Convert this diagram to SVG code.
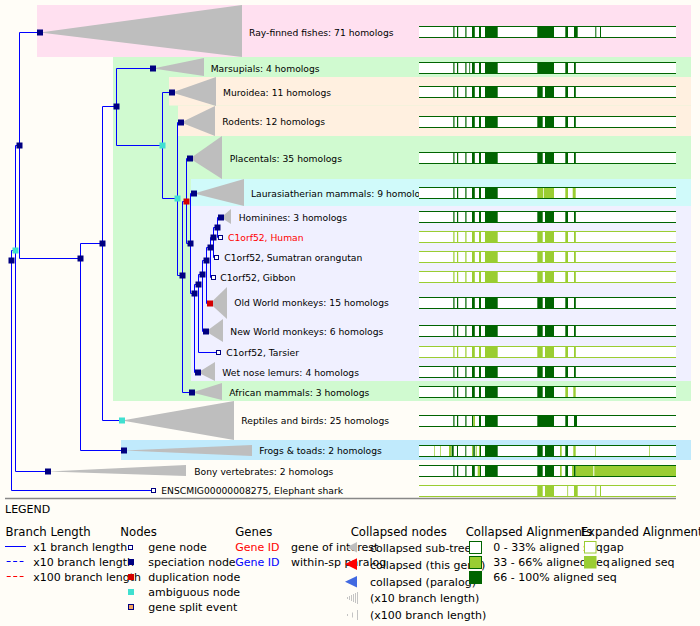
<svg xmlns="http://www.w3.org/2000/svg" xmlns:xlink="http://www.w3.org/1999/xlink" width="700" height="626" viewBox="0 0 700 626">
<style>
text{font-family:"DejaVu Sans",sans-serif;fill:#000}
.l{font-size:9.2px}
.lg{font-size:11px}
.lh{font-size:11.7px}
.sp{fill:#000080}
.am{fill:#40e0d0}
.du{fill:#d40000}
.gn{fill:#fff;stroke:#000080;stroke-width:1}
.tri{fill:#bebebe}
.cn{stroke:#0000ff;stroke-width:1;fill:none}
</style>
<defs>
<g id="fr"><rect x="419" y="0" width="257" height="12" fill="#fff"/></g>
<path id="ln" d="M419,0.5H676M419,11.5H676" fill="none" stroke-width="1"/>
<g id="front"><rect x="453.3" width="1.2" height="12"/><rect x="457" width="1.2" height="12"/><rect x="465.3" width="1.2" height="12"/><rect x="472" width="2.8" height="12"/><rect x="479" width="2" height="12"/><rect x="485" width="12.7" height="12"/></g>
<g id="back"><rect x="537.3" width="5.4" height="12"/><rect x="545" width="9" height="12"/><rect x="565.3" width="2.7" height="12"/><rect x="574" width="1.8" height="12"/></g>
</defs>
<rect width="700" height="626" fill="#fffdf7"/>
<g id="bands">
<rect x="37" y="5" width="654" height="52" fill="#ffe0f0"/>
<rect x="113" y="57" width="578" height="344" fill="#d0fad0"/>
<rect x="169" y="77" width="522" height="28.5" fill="#fff0e0"/>
<rect x="178" y="105.5" width="513" height="30.5" fill="#fff0e0"/>
<rect x="191" y="179" width="500" height="27" fill="#d0fafa"/>
<rect x="191" y="206" width="500" height="175" fill="#f0f0ff"/>
<rect x="121" y="440" width="570" height="20" fill="#c0eafc"/>
</g>
<g id="connectors" class="cn">
<path d="M11.5,250.5V490.5H154M11.5,250.5H15.5M15.5,145.5V471.5H48M15.5,145.5H19.5M19.5,32.5V258.5M19.5,32.5H40M19.5,258.5H80.5M80.5,243.5V450.5H124M80.5,243.5H102.5M102.5,106.5V420.5H122M102.5,106.5H116.5M116.5,68.5V145.5H162.5M116.5,68.5H153M162.5,92.5V198.5H177.5M162.5,92.5H172M177.5,122.5V275.5H182.5M177.5,122.5H181M182.5,201.5V392.5H192M182.5,201.5H186.5M186.5,158.5V243.5H190.5M186.5,158.5H190M190.5,193.5V293.5H194.5M190.5,193.5H194M194.5,284.5V372.5H198M194.5,284.5H198.5M198.5,274.5V352.5H219M198.5,274.5H202.5M202.5,260.5V331.5H206M202.5,260.5H206.5M206.5,247.5V303.5H210M206.5,247.5H210.5M210.5,237.5V277.5H213.5M210.5,237.5H213.5M213.5,227.5V257.5H217M213.5,227.5H217.5M217.5,217.5V237.5H221M217.5,217.5H221"/>
</g>
<g id="collapsed" class="tri">
<polygon points="40,32.5 242,5 242,57"/>
<polygon points="153,68.5 204,58 204,76"/>
<polygon points="172,92.5 216,77 216,106"/>
<polygon points="181,122.5 215,106 215,136"/>
<polygon points="190,158.5 222,136 222,179"/>
<polygon points="194,193.5 244,179 244,206"/>
<polygon points="221,217.5 231,209 231,224"/>
<polygon points="210,303.5 227,287 227,319"/>
<polygon points="206,331.5 223,319 223,342"/>
<polygon points="198,372.5 215,362 215,381"/>
<polygon points="192,392.5 222,383 222,400"/>
<polygon points="122,420.5 234,401 234,440"/>
<polygon points="124,450.5 252,445 252,456"/>
<polygon points="48,471.5 186,465 186,476"/>
</g>
<g id="nodes">
<g id="n-root"><rect class="sp" x="8.5" y="257.5" width="6" height="6"/></g>
<g id="n-amb1"><rect class="am" x="12.5" y="247.5" width="6" height="6"/></g>
<g id="n-19"><rect class="sp" x="16.5" y="142.5" width="6" height="6"/></g>
<g id="n-80"><rect class="sp" x="77.5" y="255.5" width="6" height="6"/></g>
<g id="n-102"><rect class="sp" x="99.5" y="240.5" width="6" height="6"/></g>
<g id="n-116"><rect class="sp" x="113.5" y="103.5" width="6" height="6"/></g>
<g id="n-amb2"><rect class="am" x="159.5" y="142.5" width="6" height="6"/></g>
<g id="n-amb3"><rect class="am" x="174.5" y="195.5" width="6" height="6"/></g>
<g id="n-182"><rect class="sp" x="179.5" y="272.5" width="6" height="6"/></g>
<g id="n-dup1"><rect class="du" x="183.5" y="198.5" width="6" height="6"/></g>
<g id="n-190"><rect class="sp" x="187.5" y="240.5" width="6" height="6"/></g>
<g id="n-194"><rect class="sp" x="191.5" y="290.5" width="6" height="6"/></g>
<g id="n-198"><rect class="sp" x="195.5" y="281.5" width="6" height="6"/></g>
<g id="n-202"><rect class="sp" x="199.5" y="271.5" width="6" height="6"/></g>
<g id="n-206"><rect class="sp" x="203.5" y="257.5" width="6" height="6"/></g>
<g id="n-210"><rect class="sp" x="207.5" y="244.5" width="6" height="6"/></g>
<g id="n-213"><rect class="sp" x="210.5" y="234.5" width="6" height="6"/></g>
<g id="n-217"><rect class="sp" x="214.5" y="224.5" width="6" height="6"/></g>
<g id="ray"><rect class="sp" x="37" y="29.5" width="6" height="6"/><text class="l" x="249" y="36">Ray-finned fishes: 71 homologs</text></g>
<g id="marsupials"><rect class="sp" x="150" y="65.5" width="6" height="6"/><text class="l" x="210.7" y="71.5">Marsupials: 4 homologs</text></g>
<g id="muroidea"><rect class="sp" x="169" y="89.5" width="6" height="6"/><text class="l" x="223" y="95.5">Muroidea: 11 homologs</text></g>
<g id="rodents"><rect class="sp" x="178" y="119.5" width="6" height="6"/><text class="l" x="222.3" y="125">Rodents: 12 homologs</text></g>
<g id="placentals"><rect class="sp" x="187" y="155.5" width="6" height="6"/><text class="l" x="229.7" y="161.5">Placentals: 35 homologs</text></g>
<g id="laurasiatherian"><rect class="sp" x="191" y="190.5" width="6" height="6"/><text class="l" x="251" y="196.5">Laurasiatherian mammals: 9 homologs</text></g>
<g id="hominines"><rect class="sp" x="218" y="214.5" width="6" height="6"/><text class="l" x="238.7" y="220.5">Hominines: 3 homologs</text></g>
<g id="human"><rect class="gn" x="218.5" y="235.5" width="4" height="4"/><text class="l" x="228" y="240.5" style="fill:#ff0000">C1orf52, Human</text></g>
<g id="orangutan"><rect class="gn" x="214.5" y="255.5" width="4" height="4"/><text class="l" x="224.3" y="260.5">C1orf52, Sumatran orangutan</text></g>
<g id="gibbon"><rect class="gn" x="211.5" y="275.5" width="4" height="4"/><text class="l" x="220.3" y="280.5">C1orf52, Gibbon</text></g>
<g id="owm"><rect class="du" x="207" y="300.5" width="6" height="6"/><text class="l" x="234.3" y="306">Old World monkeys: 15 homologs</text></g>
<g id="nwm"><rect class="sp" x="203" y="328.5" width="6" height="6"/><text class="l" x="230.3" y="334.5">New World monkeys: 6 homologs</text></g>
<g id="tarsier"><rect class="gn" x="216.5" y="350.5" width="4" height="4"/><text class="l" x="226.3" y="355.5">C1orf52, Tarsier</text></g>
<g id="wetnose"><rect class="sp" x="195" y="369.5" width="6" height="6"/><text class="l" x="222.3" y="375.5">Wet nose lemurs: 4 homologs</text></g>
<g id="african"><rect class="sp" x="189" y="389.5" width="6" height="6"/><text class="l" x="229.3" y="395.5">African mammals: 3 homologs</text></g>
<g id="reptiles"><rect class="am" x="119" y="417.5" width="6" height="6"/><text class="l" x="241.3" y="424">Reptiles and birds: 25 homologs</text></g>
<g id="frogs"><rect class="sp" x="121" y="447.5" width="6" height="6"/><text class="l" x="259.3" y="454">Frogs &amp; toads: 2 homologs</text></g>
<g id="bony"><rect class="sp" x="45" y="468.5" width="6" height="6"/><text class="l" x="194.3" y="474.5">Bony vertebrates: 2 homologs</text></g>
<g id="shark"><rect class="gn" x="151.5" y="488.5" width="4" height="4"/><text class="l" x="161.3" y="494">ENSCMIG00000008275, Elephant shark</text></g>
</g>
<g id="alignments">
<g transform="translate(0,26)"><use xlink:href="#fr"/><use xlink:href="#front" fill="#006400"/><g fill="#006400"><rect x="537.3" width="16.7" height="12"/><rect x="565.3" width="2.7" height="12"/><rect x="574" width="3.7" height="12"/><rect x="595.3" width="1" height="12"/><rect x="600" width="1" height="12"/></g><use xlink:href="#ln" stroke="#006400"/></g>
<g transform="translate(0,62)"><use xlink:href="#fr"/><use xlink:href="#front" fill="#006400"/><g fill="#006400"><rect x="469.3" width="0.8" height="12"/><rect x="537.3" width="16.7" height="12"/><rect x="565.3" width="2.7" height="12"/><rect x="574" width="1.8" height="12"/></g><use xlink:href="#ln" stroke="#006400"/></g>
<g transform="translate(0,86)"><use xlink:href="#fr"/><use xlink:href="#front" fill="#006400"/><use xlink:href="#back" fill="#006400"/><use xlink:href="#ln" stroke="#006400"/></g>
<g transform="translate(0,116)"><use xlink:href="#fr"/><use xlink:href="#front" fill="#006400"/><use xlink:href="#back" fill="#006400"/><use xlink:href="#ln" stroke="#006400"/></g>
<g transform="translate(0,152)"><use xlink:href="#fr"/><use xlink:href="#front" fill="#006400"/><use xlink:href="#back" fill="#006400"/><use xlink:href="#ln" stroke="#006400"/></g>
<g transform="translate(0,187)"><use xlink:href="#fr"/><use xlink:href="#front" fill="#006400"/><g fill="#9acd32"><rect x="537.3" width="6" height="12"/><rect x="544" width="10" height="12"/><rect x="565.3" width="2.7" height="12"/><rect x="572.7" width="3" height="12"/></g><use xlink:href="#ln" stroke="#006400"/></g>
<g transform="translate(0,211)"><use xlink:href="#fr"/><use xlink:href="#front" fill="#006400"/><use xlink:href="#back" fill="#006400"/><use xlink:href="#ln" stroke="#006400"/></g>
<g transform="translate(0,231)"><use xlink:href="#fr"/><use xlink:href="#front" fill="#9acd32"/><use xlink:href="#back" fill="#9acd32"/><use xlink:href="#ln" stroke="#9acd32"/></g>
<g transform="translate(0,251)"><use xlink:href="#fr"/><use xlink:href="#front" fill="#9acd32"/><use xlink:href="#back" fill="#9acd32"/><use xlink:href="#ln" stroke="#9acd32"/></g>
<g transform="translate(0,271)"><use xlink:href="#fr"/><use xlink:href="#front" fill="#9acd32"/><use xlink:href="#back" fill="#9acd32"/><use xlink:href="#ln" stroke="#9acd32"/></g>
<g transform="translate(0,297)"><use xlink:href="#fr"/><use xlink:href="#front" fill="#006400"/><use xlink:href="#back" fill="#006400"/><use xlink:href="#ln" stroke="#006400"/></g>
<g transform="translate(0,325)"><use xlink:href="#fr"/><use xlink:href="#front" fill="#006400"/><use xlink:href="#back" fill="#006400"/><use xlink:href="#ln" stroke="#006400"/></g>
<g transform="translate(0,346)"><use xlink:href="#fr"/><use xlink:href="#front" fill="#9acd32"/><use xlink:href="#back" fill="#9acd32"/><use xlink:href="#ln" stroke="#9acd32"/></g>
<g transform="translate(0,366)"><use xlink:href="#fr"/><use xlink:href="#front" fill="#006400"/><use xlink:href="#back" fill="#006400"/><use xlink:href="#ln" stroke="#006400"/></g>
<g transform="translate(0,386)"><use xlink:href="#fr"/><use xlink:href="#front" fill="#006400"/><g fill="#006400"><rect x="537.3" width="5.4" height="12"/><rect x="545" width="9" height="12"/></g><g fill="#9acd32"><rect x="565.3" width="2.7" height="12"/><rect x="573.3" width="2.4" height="12"/></g><use xlink:href="#ln" stroke="#006400"/></g>
<g transform="translate(0,415)"><use xlink:href="#fr"/><g fill="#006400"><rect x="453.3" width="1.2" height="12"/><rect x="457" width="1.2" height="12"/><rect x="465.3" width="1.2" height="12"/><rect x="472" width="1.3" height="12"/><rect x="479" width="2" height="12"/><rect x="485" width="12.7" height="12"/><rect x="537.3" width="16.7" height="12"/><rect x="565.3" width="2.7" height="12"/><rect x="574" width="3" height="12"/></g><rect x="473.3" width="1.7" height="12" fill="#9acd32"/><use xlink:href="#ln" stroke="#006400"/></g>
<g transform="translate(0,445)"><use xlink:href="#fr"/><g fill="#9acd32"><rect x="434" width="0.7" height="12"/><rect x="440" width="0.7" height="12"/><rect x="449" width="2.4" height="12"/><rect x="472" width="1.3" height="12"/><rect x="475.7" width="1" height="12"/><rect x="479" width="1" height="12"/><rect x="560" width="1.7" height="12"/><rect x="573.3" width="2.4" height="12"/><rect x="595.3" width="0.7" height="12"/><rect x="649.3" width="0.7" height="12"/></g><g fill="#006400"><rect x="451.7" width="2" height="12"/><rect x="457" width="1" height="12"/><rect x="465.3" width="1" height="12"/><rect x="473.3" width="1.5" height="12"/><rect x="480" width="1" height="12"/><rect x="485" width="12.7" height="12"/><rect x="537.3" width="5.4" height="12"/><rect x="545" width="9" height="12"/><rect x="565.3" width="2.7" height="12"/></g><use xlink:href="#ln" stroke="#006400"/></g>
<g transform="translate(0,465)"><use xlink:href="#fr"/><g fill="#006400"><rect x="453.3" width="1.2" height="12"/><rect x="457" width="1.2" height="12"/><rect x="465.3" width="1.2" height="12"/><rect x="472" width="2.8" height="12"/><rect x="480" width="1" height="12"/><rect x="485" width="12.7" height="12"/><rect x="537.3" width="5.4" height="12"/><rect x="545" width="9" height="12"/><rect x="565.3" width="2.7" height="12"/><rect x="574" width="1.7" height="12"/></g><g fill="#9acd32"><rect x="477.7" width="2.3" height="12"/><rect x="560" width="1.7" height="12"/><rect x="572" width="2" height="12"/><rect x="575.7" width="17.6" height="12"/><rect x="594.3" width="81.7" height="12"/></g><use xlink:href="#ln" stroke="#006400"/></g>
<g transform="translate(0,485)"><use xlink:href="#fr"/><g fill="#9acd32"><rect x="537.3" width="5.4" height="12"/><rect x="545" width="9" height="12"/><rect x="567.3" width="0.8" height="12"/><rect x="574" width="3.7" height="12"/><rect x="595.3" width="1" height="12"/><rect x="600" width="1" height="12"/></g><use xlink:href="#ln" stroke="#9acd32"/></g>
</g>
<line x1="5" y1="498.5" x2="676" y2="498.5" stroke="#888" stroke-width="1.5"/>
<g id="legend">
<text class="lg" x="5" y="513">LEGEND</text>
<text class="lh" x="5.5" y="536">Branch Length</text>
<text class="lh" x="120.3" y="536">Nodes</text>
<text class="lh" x="235.3" y="536">Genes</text>
<text class="lh" x="350.7" y="536">Collapsed nodes</text>
<text class="lh" x="465.7" y="536">Collapsed Alignments</text>
<text class="lh" x="580.7" y="536">Expanded Alignments</text>
<line x1="5" y1="546.5" x2="26" y2="546.5" stroke="#0000ff"/>
<line x1="6.7" y1="561.5" x2="23.5" y2="561.5" stroke="#0000ff" stroke-dasharray="4,2.5"/>
<line x1="6.7" y1="576.5" x2="23.5" y2="576.5" stroke="#ff0000" stroke-dasharray="4,2.5"/>
<text class="lg" x="33.3" y="551">x1 branch length</text>
<text class="lg" x="33.3" y="566">x10 branch length</text>
<text class="lg" x="33.3" y="581">x100 branch length</text>
<rect class="gn" x="128.5" y="545.5" width="4" height="4"/>
<rect class="sp" x="128" y="559" width="6" height="6"/>
<rect class="du" x="128" y="574" width="6" height="6"/>
<rect class="am" x="128" y="589" width="6" height="6"/>
<rect x="128" y="604" width="6" height="6" fill="#000080"/>
<rect x="129" y="605" width="4" height="4" fill="#f4a460"/>
<text class="lg" x="148.3" y="551">gene node</text>
<text class="lg" x="148.3" y="566">speciation node</text>
<text class="lg" x="148.3" y="581">duplication node</text>
<text class="lg" x="148.3" y="596">ambiguous node</text>
<text class="lg" x="148.3" y="611">gene split event</text>
<text class="lg" x="235.3" y="551" style="fill:#ff0000">Gene ID</text>
<text class="lg" x="291" y="551">gene of interest</text>
<text class="lg" x="235.3" y="566" style="fill:#0000ff">Gene ID</text>
<text class="lg" x="291" y="566">within-sp paralog</text>
<polygon points="346.7,547.3 357,542 357,552.5" fill="#bebebe"/>
<polygon points="345,564 357,558.3 357,570" fill="#ff0000"/>
<polygon points="345,581.7 357,576 357,587.5" fill="#4169e1"/>
<path d="M347.5,597V599M349.5,596V600M351.5,595V601M353.5,594V602M355.5,593V603M357.5,592V604" stroke="#c4c4c4" stroke-width="1"/>
<path d="M347.5,614V616M352.5,612.5V617.5M357.5,610V620" stroke="#c4c4c4" stroke-width="1"/>
<text class="lg" x="370" y="551.5">collapsed sub-tree</text>
<text class="lg" x="370" y="568.5">collapsed (this gene)</text>
<text class="lg" x="370" y="585.5">collapsed (paralog)</text>
<text class="lg" x="370" y="602">(x10 branch length)</text>
<text class="lg" x="370" y="618.5">(x100 branch length)</text>
<text class="lg" x="493.3" y="551">0 - 33% aligned seq</text>
<text class="lg" x="493.3" y="566">33 - 66% aligned seq</text>
<text class="lg" x="493.3" y="581">66 - 100% aligned seq</text>
<rect x="469.5" y="541.5" width="12" height="12" fill="#fff" stroke="#006400"/>
<rect x="469.5" y="556.5" width="12" height="12" fill="#9acd32" stroke="#006400"/>
<rect x="469.5" y="571.5" width="12" height="12" fill="#006400" stroke="#006400"/>
<rect x="584.5" y="541.5" width="11.5" height="11.5" fill="#fff" stroke="#9acd32"/>
<rect x="584" y="556" width="12.5" height="12.5" fill="#9acd32"/>
<text class="lg" x="603" y="551">gap</text>
<text class="lg" x="611" y="566">aligned seq</text>
</g>
</svg>
